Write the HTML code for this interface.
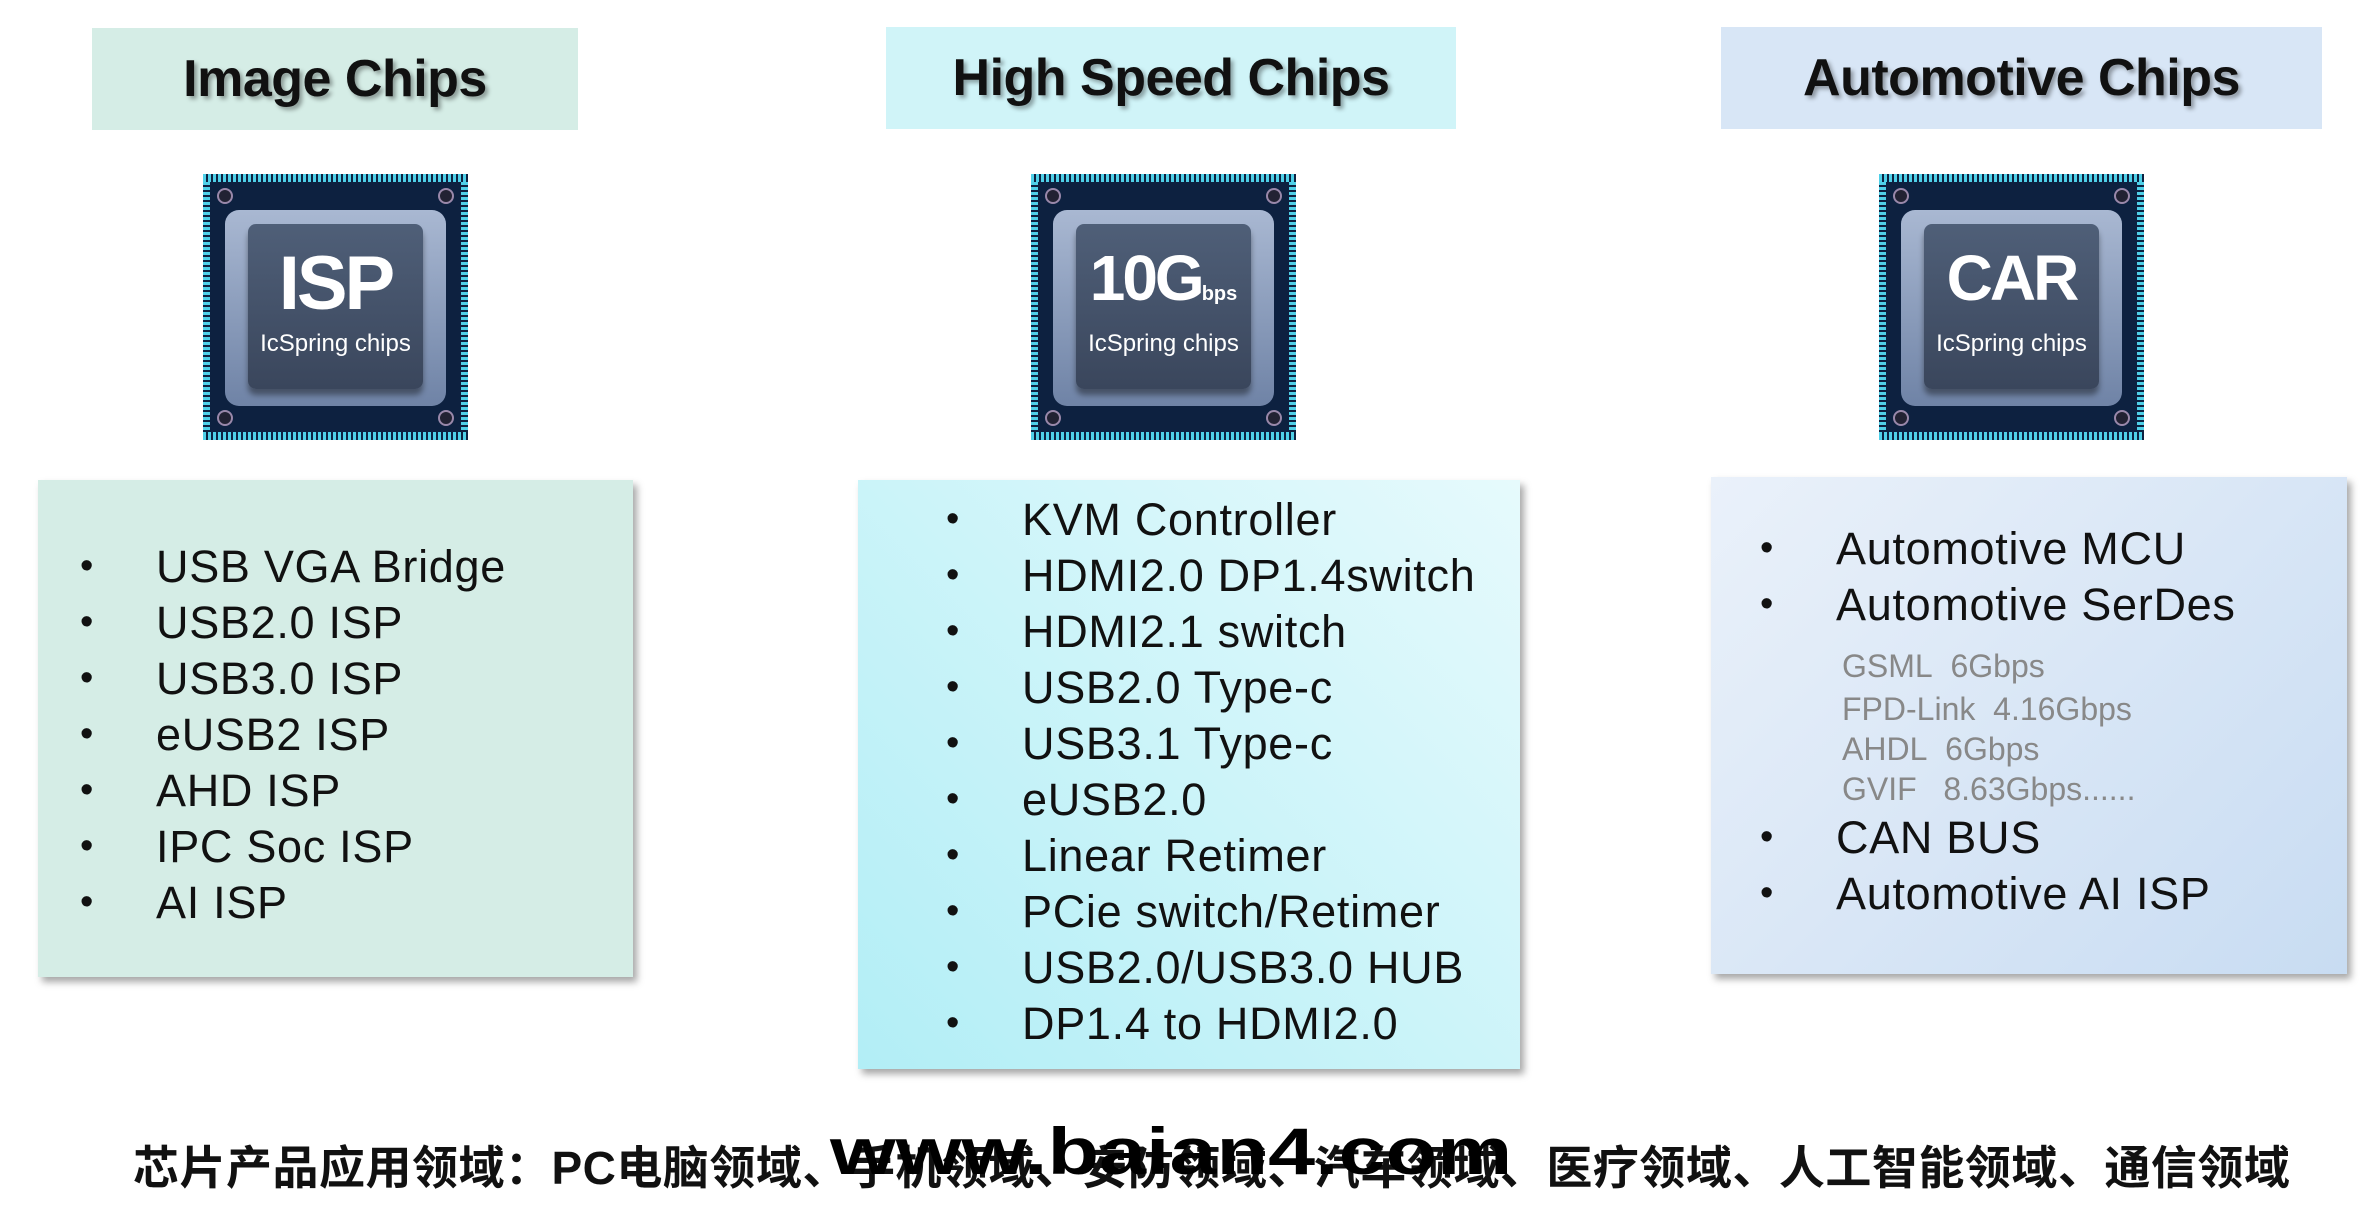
<!DOCTYPE html>
<html><head><meta charset="utf-8"><style>
body{margin:0;width:2374px;height:1214px;background:#fff;position:relative;overflow:hidden;font-family:"Liberation Sans","Noto Sans CJK SC",sans-serif}
.h{position:absolute;display:flex;align-items:center;justify-content:center;font-weight:bold;font-size:52px;color:#111;text-shadow:3px 3px 4px rgba(0,0,0,.35);letter-spacing:-0.5px}
.box{position:absolute;box-shadow:4px 5px 7px rgba(0,0,0,.35)}
.li{position:absolute;font-size:45px;color:#111;white-space:nowrap;line-height:1;letter-spacing:0.7px}
.b{position:absolute;font-size:38px;color:#111}
.g{position:absolute;font-size:32px;color:#888;white-space:nowrap;line-height:1}
.chip{position:absolute;width:265px;height:266px;background:#0d2140;}
.chip .t{position:absolute;left:0;right:0;top:0;height:8px;background:repeating-linear-gradient(90deg,#4fd0e8 0 3px,#0d2140 3px 5px)}
.chip .bt{position:absolute;left:0;right:0;bottom:0;height:8px;background:repeating-linear-gradient(90deg,#4fd0e8 0 3px,#0d2140 3px 5px)}
.chip .l{position:absolute;left:0;top:8px;bottom:8px;width:7px;background:repeating-linear-gradient(180deg,#4fd0e8 0 3px,#0d2140 3px 5px)}
.chip .r{position:absolute;right:0;top:8px;bottom:8px;width:7px;background:repeating-linear-gradient(180deg,#4fd0e8 0 3px,#0d2140 3px 5px)}
.chip .f{position:absolute;left:22px;top:36px;width:221px;height:196px;background:linear-gradient(#a9b8d2,#6f83a6);border-radius:14px}
.chip .c{position:absolute;left:45px;top:50px;width:175px;height:165px;background:linear-gradient(#4f5f78,#3a465c);border-radius:8px;box-shadow:0 6px 6px rgba(0,0,0,.4);color:#fff;text-align:center}
.chip .big{position:absolute;left:0;right:0;top:22px;font-size:76px;font-weight:bold;letter-spacing:-3px;line-height:1}
.chip .sm{position:absolute;left:0;right:0;top:108px;font-size:24px;line-height:1}
.chip .o{position:absolute;width:12px;height:12px;border-radius:50%;border:2px solid #98a;background:#223}
</style></head><body>

<div class="h" style="left:92px;top:28px;width:486px;height:102px;background:#d5ede6">Image Chips</div>
<div class="h" style="left:886px;top:27px;width:570px;height:102px;background:#d0f4f8">High Speed Chips</div>
<div class="h" style="left:1721px;top:27px;width:601px;height:102px;background:#d8e6f6">Automotive Chips</div>

<div class="chip" style="left:203px;top:174px"><div class="t"></div><div class="bt"></div><div class="l"></div><div class="r"></div><div class="f"></div><div class="o" style="left:14px;top:14px"></div><div class="o" style="right:14px;top:14px"></div><div class="o" style="left:14px;bottom:14px"></div><div class="o" style="right:14px;bottom:14px"></div><div class="c"><div class="big">ISP</div><div class="sm">IcSpring chips</div></div></div>
<div class="chip" style="left:1031px;top:174px"><div class="t"></div><div class="bt"></div><div class="l"></div><div class="r"></div><div class="f"></div><div class="o" style="left:14px;top:14px"></div><div class="o" style="right:14px;top:14px"></div><div class="o" style="left:14px;bottom:14px"></div><div class="o" style="right:14px;bottom:14px"></div><div class="c"><div class="big" style="font-size:64px">10G<span style="font-size:20px;letter-spacing:0">bps</span></div><div class="sm">IcSpring chips</div></div></div>
<div class="chip" style="left:1879px;top:174px"><div class="t"></div><div class="bt"></div><div class="l"></div><div class="r"></div><div class="f"></div><div class="o" style="left:14px;top:14px"></div><div class="o" style="right:14px;top:14px"></div><div class="o" style="left:14px;bottom:14px"></div><div class="o" style="right:14px;bottom:14px"></div><div class="c"><div class="big" style="font-size:64px">CAR</div><div class="sm">IcSpring chips</div></div></div>

<div class="box" style="left:38px;top:480px;width:595px;height:497px;background:#d5ede6"></div>
<div class="box" style="left:858px;top:480px;width:662px;height:589px;background:linear-gradient(45deg,#b2eef6,#e6fafc)"></div>
<div class="box" style="left:1711px;top:477px;width:636px;height:497px;background:linear-gradient(135deg,#eaf1fa,#c8dcf2)"></div>

<div class="b" style="left:80px;top:545px">•</div><div class="li" style="left:156px;top:544px">USB VGA Bridge</div>
<div class="b" style="left:80px;top:601px">•</div><div class="li" style="left:156px;top:600px">USB2.0 ISP</div>
<div class="b" style="left:80px;top:657px">•</div><div class="li" style="left:156px;top:656px">USB3.0 ISP</div>
<div class="b" style="left:80px;top:713px">•</div><div class="li" style="left:156px;top:712px">eUSB2 ISP</div>
<div class="b" style="left:80px;top:769px">•</div><div class="li" style="left:156px;top:768px">AHD ISP</div>
<div class="b" style="left:80px;top:825px">•</div><div class="li" style="left:156px;top:824px">IPC Soc ISP</div>
<div class="b" style="left:80px;top:881px">•</div><div class="li" style="left:156px;top:880px">AI ISP</div>

<div class="b" style="left:946px;top:498px">•</div><div class="li" style="left:1022px;top:497px">KVM Controller</div>
<div class="b" style="left:946px;top:554px">•</div><div class="li" style="left:1022px;top:553px">HDMI2.0 DP1.4switch</div>
<div class="b" style="left:946px;top:610px">•</div><div class="li" style="left:1022px;top:609px">HDMI2.1 switch</div>
<div class="b" style="left:946px;top:666px">•</div><div class="li" style="left:1022px;top:665px">USB2.0 Type-c</div>
<div class="b" style="left:946px;top:722px">•</div><div class="li" style="left:1022px;top:721px">USB3.1 Type-c</div>
<div class="b" style="left:946px;top:778px">•</div><div class="li" style="left:1022px;top:777px">eUSB2.0</div>
<div class="b" style="left:946px;top:834px">•</div><div class="li" style="left:1022px;top:833px">Linear Retimer</div>
<div class="b" style="left:946px;top:890px">•</div><div class="li" style="left:1022px;top:889px">PCie switch/Retimer</div>
<div class="b" style="left:946px;top:946px">•</div><div class="li" style="left:1022px;top:945px">USB2.0/USB3.0 HUB</div>
<div class="b" style="left:946px;top:1002px">•</div><div class="li" style="left:1022px;top:1001px">DP1.4 to HDMI2.0</div>

<div class="b" style="left:1760px;top:527px">•</div><div class="li" style="left:1836px;top:526px">Automotive MCU</div>
<div class="b" style="left:1760px;top:583px">•</div><div class="li" style="left:1836px;top:582px">Automotive SerDes</div>
<div class="g" style="left:1842px;top:650px">GSML&nbsp; 6Gbps</div>
<div class="g" style="left:1842px;top:693px">FPD-Link&nbsp; 4.16Gbps</div>
<div class="g" style="left:1842px;top:733px">AHDL&nbsp; 6Gbps</div>
<div class="g" style="left:1842px;top:773px">GVIF&nbsp;&nbsp; 8.63Gbps......</div>
<div class="b" style="left:1760px;top:816px">•</div><div class="li" style="left:1836px;top:815px">CAN BUS</div>
<div class="b" style="left:1760px;top:872px">•</div><div class="li" style="left:1836px;top:871px">Automotive AI ISP</div>

<div style="position:absolute;left:133px;top:1145px;width:2220px;font-size:46px;font-weight:bold;color:#111;white-space:nowrap;letter-spacing:0.5px;line-height:1">芯片产品应用领域：PC电脑领域、手机领域、安防领域、汽车领域、医疗领域、人工智能领域、通信领域</div>
<div style="position:absolute;left:830px;top:1118px;font-size:66px;font-weight:bold;color:#000;white-space:nowrap;line-height:1;transform:scaleX(1.28);transform-origin:left">www.baian4.com</div>
</body></html>
